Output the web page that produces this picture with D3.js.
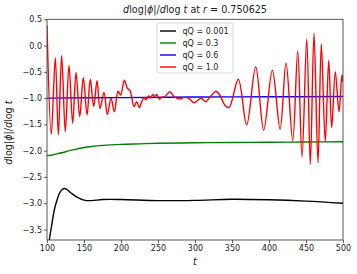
<!DOCTYPE html>
<html>
<head>
<meta charset="utf-8">
<script src="https://cdn.jsdelivr.net/npm/d3@7"></script>
<style>
  body { margin: 0; background: #fff; }
  svg text { font-family: "DejaVu Sans", sans-serif; fill: #222; }
</style>
</head>
<body>
<script>
// series values
var labels = ["qQ = 0.001", "qQ = 0.3", "qQ = 0.6", "qQ = 1.0"];
var colors = ["#000000", "#008000", "#0000ff", "#ff0000"];

var blackT = [100, 103, 106, 110, 114, 118, 123, 127, 132, 140, 150, 160, 175, 200, 250, 300, 350, 400, 450, 500];
var blackV = [-4.4, -3.72, -3.45, -3.12, -2.92, -2.78, -2.72, -2.74, -2.80, -2.88, -2.94, -2.95, -2.93, -2.93, -2.95, -2.945, -2.925, -2.935, -2.96, -3.0];

var greenT = [100, 105, 110, 120, 130, 140, 150, 160, 175, 200, 225, 250, 300, 350, 400, 450, 500];
var greenV = [-2.09, -2.09, -2.07, -2.04, -2.0, -1.97, -1.94, -1.92, -1.90, -1.88, -1.87, -1.86, -1.85, -1.845, -1.84, -1.835, -1.83];

var blueT = [100, 200, 300, 400, 500];
var blueV = [-1.0, -0.99, -0.98, -0.975, -0.97];

var redT = [100, 105.8, 111.2, 115.3, 119.8, 124.7, 129.7, 134.7, 139.2, 144.2, 149.1, 154.1, 158.5, 163.1,
    167.6, 171.6, 177, 181.5, 186.5, 191, 196, 199.6, 204.5, 208.5, 212.2, 217.6, 221.2, 224.7, 227.4, 231,
    233.8, 237.4, 240.1, 242.8, 245.5, 248.2, 251.8, 255.4, 259, 266.2, 271.6, 278.8, 284.2, 288.8, 293.2,
    298.6, 304, 308.5, 313.9, 320.3, 328.4, 333.8, 340.1, 346, 358.5, 369.8, 382, 392.8, 404.5, 415, 423,
    432, 438.8, 444.6, 451, 455.8, 460.8, 466.2, 470.7, 476, 480.7, 484.7, 489.6, 494.6, 498.6, 500];
var redV = [0.38, -1.69, -0.23, -1.70, -0.19, -1.64, -0.38, -1.48, -0.51, -1.35, -0.61, -1.32, -0.64, -1.16,
    -0.67, -1.20, -0.89, -1.31, -1.0, -1.26, -0.87, -0.94, -0.66, -0.81, -0.86, -1.16, -1.07, -1.18, -1.09, -0.99,
    -1.03, -0.96, -1.0, -0.93, -0.97, -0.93, -1.02, -0.98, -0.97, -0.88, -0.97, -1.02, -0.99, -0.99, -1.02,
    -1.09, -1.04, -1.0, -1.07, -0.98, -0.87, -0.95, -1.13, -1.18, -0.64, -1.51, -0.40, -1.61, -0.47, -1.59, -0.33,
    -1.81, -0.10, -2.12, 0.12, -2.26, 0.23, -2.23, 0.03, -1.83, -0.28, -1.56, -0.5, -1.26, -0.56, -0.7];

var xTicks = [100, 150, 200, 250, 300, 350, 400, 450, 500];
var yTicks = [-3.5, -3.0, -2.5, -2.0, -1.5, -1.0, -0.5, 0.0, 0.5];

var seriesT = [blackT, greenT, blueT, redT];
var seriesV = [blackV, greenV, blueV, redV];

var width = 357, height = 274;
var margin = {top: 19.3, right: 14, bottom: 34, left: 47};

var svg = d3.select("body").append("svg")
    .attr("width", width)
    .attr("height", height);

var x = d3.scaleLinear().domain([100, 500]).range([margin.left, width - margin.right]);
var y = d3.scaleLinear().domain([-3.7, 0.5]).range([height - margin.bottom, margin.top]);

svg.append("clipPath").attr("id", "clip")
    .append("rect")
    .attr("x", margin.left).attr("y", margin.top)
    .attr("width", x.range()[1] - margin.left)
    .attr("height", y.range()[0] - margin.top);

var line = d3.line()
    .x(function(d) { return x(d[0]); })
    .y(function(d) { return y(d[1]); })
    .curve(d3.curveCatmullRom.alpha(0.5));

var plot = svg.append("g").attr("clip-path", "url(#clip)");
for (var i = 0; i < seriesT.length; i++) {
    var pts = seriesT[i].map(function(t, j) { return [t, seriesV[i][j]]; });
    plot.append("path")
        .datum(pts)
        .attr("fill", "none")
        .attr("stroke", colors[i])
        .attr("stroke-width", 1.4)
        .attr("stroke-linejoin", "round")
        .attr("d", line);
}

var fmt = function(d) { return d3.format(".1f")(d).replace("-", "\u2212"); };

// axes
var xAxis = svg.append("g")
    .attr("transform", "translate(0," + y.range()[0] + ")")
    .call(d3.axisBottom(x).tickValues(xTicks).tickSize(3).tickPadding(2).tickFormat(d3.format("d")));
var yAxis = svg.append("g")
    .attr("transform", "translate(" + margin.left + ",0)")
    .call(d3.axisLeft(y).tickValues(yTicks).tickSize(3).tickPadding(2).tickFormat(fmt));
[xAxis, yAxis].forEach(function(a) {
    a.select(".domain").remove();
    a.selectAll("line").attr("stroke", "#333").attr("stroke-width", 0.8);
    a.selectAll("text").style("font-size", "8px").attr("fill", "#222");
});

// frame
svg.append("rect")
    .attr("x", margin.left).attr("y", margin.top)
    .attr("width", x.range()[1] - margin.left)
    .attr("height", y.range()[0] - margin.top)
    .attr("fill", "none")
    .attr("stroke", "#444")
    .attr("stroke-width", 0.9);

// title
var title = svg.append("text")
    .attr("x", (x.range()[0] + x.range()[1]) / 2)
    .attr("y", 13)
    .attr("text-anchor", "middle")
    .style("font-size", "9.6px");
title.append("tspan").style("font-style", "italic").text("d");
title.append("tspan").text("log|");
title.append("tspan").style("font-style", "italic").text("\u03d5");
title.append("tspan").text("|/");
title.append("tspan").style("font-style", "italic").text("d");
title.append("tspan").text("log ");
title.append("tspan").style("font-style", "italic").text("t");
title.append("tspan").text(" at ");
title.append("tspan").style("font-style", "italic").text("r");
title.append("tspan").text(" = 0.750625");

// x label
svg.append("text")
    .attr("x", (x.range()[0] + x.range()[1]) / 2)
    .attr("y", 265)
    .attr("text-anchor", "middle")
    .style("font-size", "9.6px")
    .style("font-style", "italic")
    .text("t");

// y label
var ylab = svg.append("text")
    .attr("transform", "translate(12," + ((y.range()[0] + y.range()[1]) / 2 + 3) + ") rotate(-90)")
    .attr("text-anchor", "middle")
    .style("font-size", "9.6px");
ylab.append("tspan").style("font-style", "italic").text("d");
ylab.append("tspan").text("log|");
ylab.append("tspan").style("font-style", "italic").text("\u03d5");
ylab.append("tspan").text("|/");
ylab.append("tspan").style("font-style", "italic").text("d");
ylab.append("tspan").text("log ");
ylab.append("tspan").style("font-style", "italic").text("t");

// legend
var legend = svg.append("g");
legend.append("rect")
    .attr("x", 157).attr("y", 23)
    .attr("width", 76).attr("height", 50)
    .attr("rx", 2)
    .attr("fill", "#fff").attr("fill-opacity", 0.8)
    .attr("stroke", "#ccc").attr("stroke-width", 0.8);
labels.forEach(function(lab, i) {
    var ly = 31 + i * 12;
    legend.append("line")
        .attr("x1", 160).attr("x2", 176)
        .attr("y1", ly).attr("y2", ly)
        .attr("stroke", colors[i]).attr("stroke-width", 1.4);
    legend.append("text")
        .attr("x", 182.5).attr("y", ly + 3)
        .style("font-size", "8px")
        .text(lab);
});
</script>
</body>
</html>
